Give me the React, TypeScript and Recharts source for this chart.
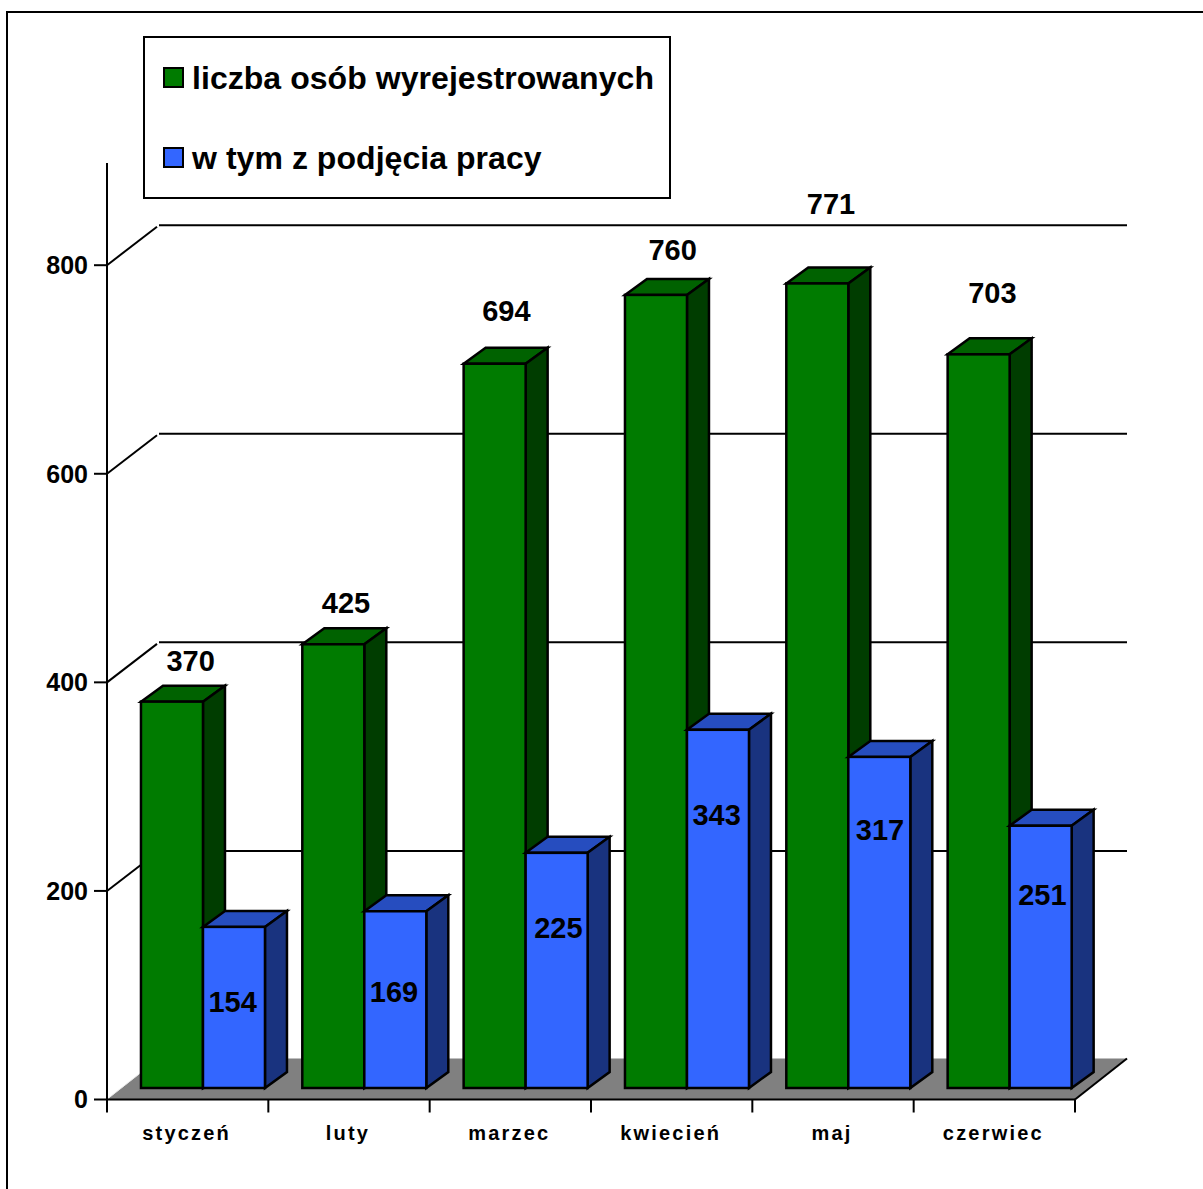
import { BarChart, Bar, XAxis, YAxis, CartesianGrid, Legend, LabelList } from "recharts";

const months = ["styczeń", "luty", "marzec", "kwiecień", "maj", "czerwiec"];
const wyrejestrowani = [370, 425, 694, 760, 771, 703];
const podjeciePracy = [154, 169, 225, 343, 317, 251];
const yTicks = [0, 200, 400, 600, 800];

// hand placed data labels, the original has them dragged around
const greenLabelShift = [
  [18, -41],
  [12, -41],
  [11, -53],
  [16, -45],
  [13, -79],
  [13, -61],
];
const blueLabelShift = [
  [-2, 75],
  [-2, 81],
  [1, 75],
  [-2, 85],
  [0, 73],
  [1, 69],
];

const data = months.map((month, i) => ({
  month,
  wyrejestrowani: wyrejestrowani[i],
  podjeciePracy: podjeciePracy[i],
}));

const FONT = '"Liberation Sans", Arial, sans-serif';
const WALL_DX = 52;
const WALL_DY = 40;
const FLOOR_DY = 41;
const BAR_X = 15.3;
const BAR_Y = 12;
const DEPTH_X = 22;
const DEPTH_Y = 16;

const GridLine = (props: any) => {
  const { x1, x2, y1, index } = props;
  const bx = x1 + WALL_DX;
  // the plot's top edge also arrives here, the original has no line there
  if (index >= yTicks.length) return <g />;
  if (index === 0) {
    const fy = y1 - FLOOR_DY;
    return (
      <g>
        <polygon points={`${x1},${y1} ${bx},${fy} ${x2 + WALL_DX},${fy} ${x2},${y1}`} fill="#808080" />
        <line x1={x1 + 1} y1={y1 - 1} x2={x1 + 34} y2={y1 - 27} stroke="#e8e8e8" strokeWidth={1} />
        <line x1={x2} y1={y1} x2={x2 + WALL_DX} y2={fy} stroke="#000" strokeWidth={2} />
      </g>
    );
  }
  const by = y1 - WALL_DY;
  return (
    <g>
      <line x1={x1} y1={y1} x2={bx - 2} y2={by + 1.5} stroke="#000" strokeWidth={2} />
      <line x1={bx} y1={by} x2={x2 + WALL_DX} y2={by} stroke="#000" strokeWidth={2} />
    </g>
  );
};

const makeBox = (front: string, top: string, side: string) => (props: any) => {
  const x = props.x + BAR_X;
  const y = props.y - BAR_Y;
  const w = props.width;
  const h = props.height + 0.5;
  return (
    <g stroke="#000" strokeWidth={2.5} strokeLinejoin="miter">
      <polygon fill={top} points={`${x},${y} ${x + DEPTH_X},${y - DEPTH_Y} ${x + w + DEPTH_X},${y - DEPTH_Y} ${x + w},${y}`} />
      <polygon fill={side} points={`${x + w},${y} ${x + w + DEPTH_X},${y - DEPTH_Y} ${x + w + DEPTH_X},${y + h - DEPTH_Y} ${x + w},${y + h}`} />
      <rect x={x} y={y} width={w} height={h} fill={front} />
    </g>
  );
};

const GreenBox = makeBox("#007b00", "#006200", "#003d00");
const BlueBox = makeBox("#3366ff", "#264dbf", "#19337f");

const makeLabel = (shift: number[][]) => (props: any) => {
  const { x, y, width, value, index } = props;
  return (
    <text
      x={x + BAR_X + width / 2 + shift[index][0] + 0.7}
      y={y - BAR_Y + shift[index][1]}
      textAnchor="middle"
      dominantBaseline="central"
      fontFamily={FONT}
      fontWeight="bold"
      fontSize={29}
      fill="#000"
    >
      {value}
    </text>
  );
};

const MonthTick = (props: any) => {
  const { x, y, payload, index } = props;
  const half = payload.offset ?? 80.67;
  return (
    <g>
      <line x1={x - half} y1={y - 8} x2={x - half} y2={y + 5} stroke="#000" strokeWidth={2} />
      {index === months.length - 1 && (
        <line x1={x + half} y1={y - 8} x2={x + half} y2={y + 5} stroke="#000" strokeWidth={2} />
      )}
      <text
        x={x - 1}
        y={y + 32}
        textAnchor="middle"
        fontFamily={FONT}
        fontWeight="bold"
        fontSize={20}
        letterSpacing={2.2}
        fill="#000"
      >
        {payload.value}
      </text>
    </g>
  );
};

const LegendBox = () => (
  <div
    style={{
      width: 528,
      height: 163,
      boxSizing: "border-box",
      border: "2px solid #000",
      background: "#fff",
      position: "absolute",
      left: 0,
      top: 0,
      fontFamily: FONT,
      fontWeight: "bold",
      fontSize: 32,
      letterSpacing: 0.05,
      color: "#000",
    }}
  >
    {[
      { label: "liczba osób wyrejestrowanych", color: "#007b00", top: 29 },
      { label: "w tym z podjęcia pracy", color: "#3366ff", top: 109 },
    ].map((item) => (
      <div key={item.label}>
        <div
          style={{
            position: "absolute",
            left: 18,
            top: item.top,
            width: 21,
            height: 21,
            boxSizing: "border-box",
            background: item.color,
            border: "2px solid #000",
          }}
        />
        <div
          style={{
            position: "absolute",
            left: 47,
            top: item.top - 7,
            lineHeight: "36px",
            whiteSpace: "nowrap",
          }}
        >
          {item.label}
        </div>
      </div>
    ))}
  </div>
);

export default function App() {
  return (
    <div style={{ position: "absolute", left: 0, top: 0, width: 1203, height: 1189, overflow: "hidden", background: "#fff" }}>
      <div
        style={{
          position: "absolute",
          left: 6,
          top: 11,
          width: 1300,
          height: 1300,
          boxSizing: "border-box",
          border: "2px solid #000",
        }}
      />
      <BarChart
        width={1203}
        height={1189}
        data={data}
        margin={{ top: 163, right: 128, left: 47, bottom: 49.5 }}
        barCategoryGap={18.67}
        barGap={0}
        style={{ position: "absolute", left: 0, top: 0 }}
      >
        <CartesianGrid vertical={false} horizontal={GridLine} />
        <XAxis
          dataKey="month"
          interval={0}
          height={40}
          axisLine={{ stroke: "#000", strokeWidth: 2 }}
          tickLine={false}
          tick={MonthTick}
        />
        <YAxis
          width={60}
          domain={[0, 898]}
          ticks={yTicks}
          interval={0}
          axisLine={{ stroke: "#000", strokeWidth: 2 }}
          tickLine={{ stroke: "#000", strokeWidth: 2 }}
          tickSize={13}
          tickMargin={6}
          tick={{ fontFamily: FONT, fontWeight: "bold", fontSize: 25, fill: "#000" }}
        />
        <Legend
          content={LegendBox}
          wrapperStyle={{ position: "absolute", left: 143, top: 36, width: 528, height: 0 }}
        />
        <Bar dataKey="wyrejestrowani" isAnimationActive={false} shape={GreenBox}>
          <LabelList dataKey="wyrejestrowani" content={makeLabel(greenLabelShift)} />
        </Bar>
        <Bar dataKey="podjeciePracy" isAnimationActive={false} shape={BlueBox}>
          <LabelList dataKey="podjeciePracy" content={makeLabel(blueLabelShift)} />
        </Bar>
      </BarChart>
    </div>
  );
}
